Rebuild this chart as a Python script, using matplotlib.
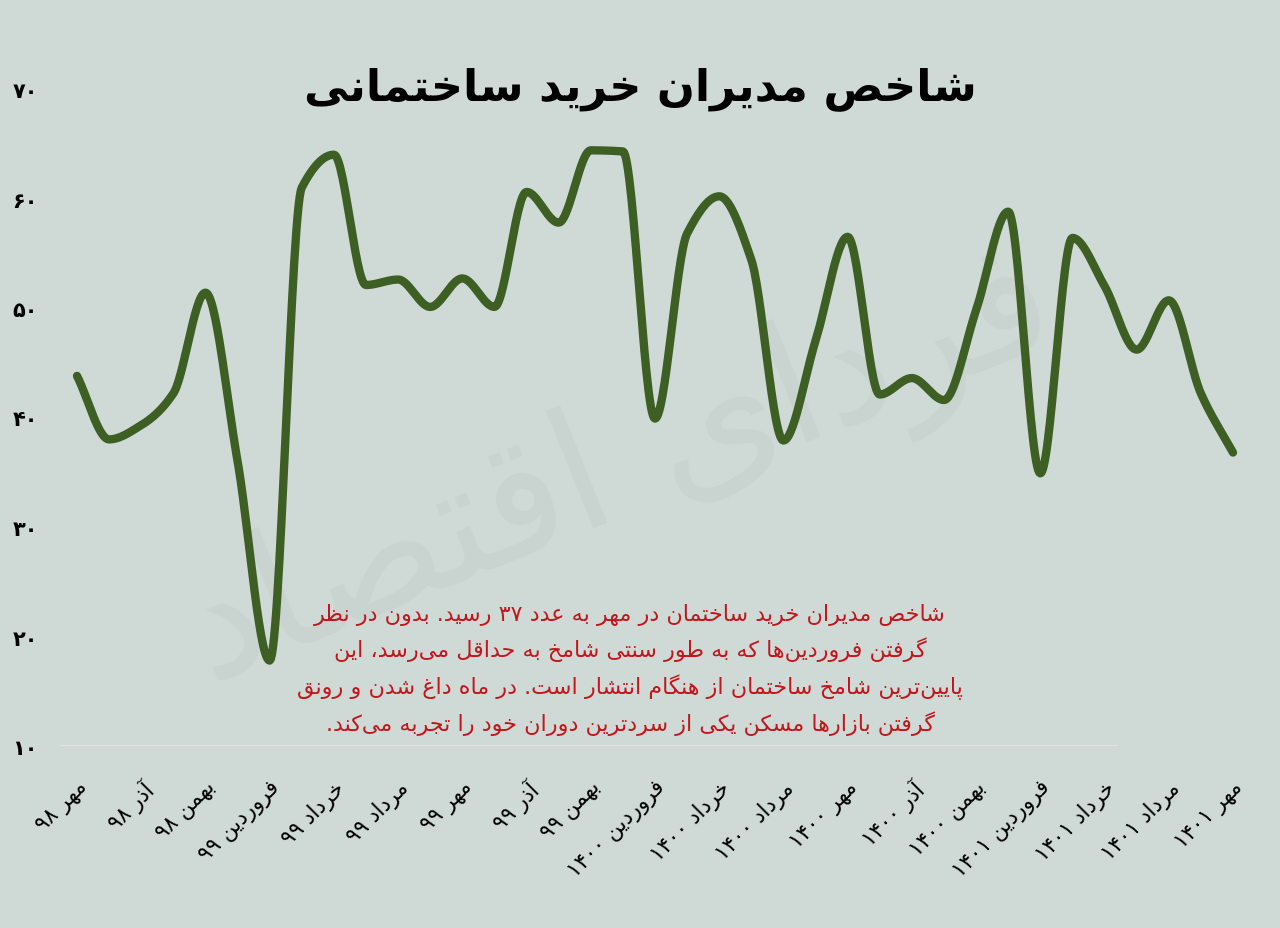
import numpy as np
import matplotlib.pyplot as plt

# داده‌ها: شاخص مدیران خرید ساختمانی، ماهانه از مهر ۹۸ تا مهر ۱۴۰۱
values = [43.8, 38.0, 39.3, 42.2, 51.4, 36.0, 17.8, 61.0, 64.0, 52.1,
          52.6, 50.1, 52.7, 50.1, 60.6, 57.8, 64.4, 64.3, 39.9, 56.8,
          60.2, 54.4, 37.9, 47.0, 56.5, 42.1, 43.6, 41.6, 49.8, 58.8,
          34.9, 56.4, 52.0, 46.2, 50.7, 42.2, 36.8]
tick_labels = ['مهر ۹۸', 'آذر ۹۸', 'بهمن ۹۸', 'فروردین ۹۹', 'خرداد ۹۹',
               'مرداد ۹۹', 'مهر ۹۹', 'آذر ۹۹', 'بهمن ۹۹', 'فروردین ۱۴۰۰',
               'خرداد ۱۴۰۰', 'مرداد ۱۴۰۰', 'مهر ۱۴۰۰', 'آذر ۱۴۰۰', 'بهمن ۱۴۰۰',
               'فروردین ۱۴۰۱', 'خرداد ۱۴۰۱', 'مرداد ۱۴۰۱', 'مهر ۱۴۰۱']
tick_step = 2
y_ticks = [10, 20, 30, 40, 50, 60, 70]
title = 'شاخص مدیران خرید ساختمانی'
note_lines = ['شاخص مدیران خرید ساختمان در مهر به عدد ۳۷ رسید. بدون در نظر',
              'گرفتن فروردین‌ها که به طور سنتی شامخ به حداقل می‌رسد، این',
              'پایین‌ترین شامخ ساختمان از هنگام انتشار است. در ماه داغ شدن و رونق',
              'گرفتن بازارها مسکن یکی از سردترین دوران خود را تجربه می‌کند.']
watermark = 'فردای اقتصاد'

BG = '#CFDAD7'
LINE = '#3D5F24'
RED = '#C3161C'

# شکل‌دهی حروف فارسی (ایزوله، پایانی، آغازی، میانی)
FORMS = {
    'ا': (0xFE8D, 0xFE8E, None, None), 'آ': (0xFE81, 0xFE82, None, None),
    'ب': (0xFE8F, 0xFE90, 0xFE91, 0xFE92), 'پ': (0xFB56, 0xFB57, 0xFB58, 0xFB59),
    'ت': (0xFE95, 0xFE96, 0xFE97, 0xFE98), 'ث': (0xFE99, 0xFE9A, 0xFE9B, 0xFE9C),
    'ج': (0xFE9D, 0xFE9E, 0xFE9F, 0xFEA0), 'چ': (0xFB7A, 0xFB7B, 0xFB7C, 0xFB7D),
    'ح': (0xFEA1, 0xFEA2, 0xFEA3, 0xFEA4), 'خ': (0xFEA5, 0xFEA6, 0xFEA7, 0xFEA8),
    'د': (0xFEA9, 0xFEAA, None, None), 'ذ': (0xFEAB, 0xFEAC, None, None),
    'ر': (0xFEAD, 0xFEAE, None, None), 'ز': (0xFEAF, 0xFEB0, None, None),
    'ژ': (0xFB8A, 0xFB8B, None, None),
    'س': (0xFEB1, 0xFEB2, 0xFEB3, 0xFEB4), 'ش': (0xFEB5, 0xFEB6, 0xFEB7, 0xFEB8),
    'ص': (0xFEB9, 0xFEBA, 0xFEBB, 0xFEBC), 'ض': (0xFEBD, 0xFEBE, 0xFEBF, 0xFEC0),
    'ط': (0xFEC1, 0xFEC2, 0xFEC3, 0xFEC4), 'ظ': (0xFEC5, 0xFEC6, 0xFEC7, 0xFEC8),
    'ع': (0xFEC9, 0xFECA, 0xFECB, 0xFECC), 'غ': (0xFECD, 0xFECE, 0xFECF, 0xFED0),
    'ف': (0xFED1, 0xFED2, 0xFED3, 0xFED4), 'ق': (0xFED5, 0xFED6, 0xFED7, 0xFED8),
    'ک': (0xFB8E, 0xFB8F, 0xFB90, 0xFB91), 'گ': (0xFB92, 0xFB93, 0xFB94, 0xFB95),
    'ل': (0xFEDD, 0xFEDE, 0xFEDF, 0xFEE0), 'م': (0xFEE1, 0xFEE2, 0xFEE3, 0xFEE4),
    'ن': (0xFEE5, 0xFEE6, 0xFEE7, 0xFEE8), 'و': (0xFEED, 0xFEEE, None, None),
    'ه': (0xFEE9, 0xFEEA, 0xFEEB, 0xFEEC), 'ی': (0xFBFC, 0xFBFD, 0xFBFE, 0xFBFF),
}
DIGITS = set('۰۱۲۳۴۵۶۷۸۹0123456789')


def fa(text):
    out = []
    for i, c in enumerate(text):
        if c == '\u200c':
            continue
        if c not in FORMS:
            out.append(c)
            continue
        prev = text[i - 1] if i > 0 else ''
        nxt = text[i + 1] if i + 1 < len(text) else ''
        join_prev = prev in FORMS and FORMS[prev][2] is not None
        join_next = nxt in FORMS and FORMS[c][2] is not None
        iso, fin, ini, med = FORMS[c]
        if join_prev and join_next:
            code = med
        elif join_prev:
            code = fin
        elif join_next:
            code = ini
        else:
            code = iso
        out.append(chr(code))
    # راست به چپ، اعداد چپ به راست می‌مانند
    vis = out[::-1]
    res, run = [], []
    for c in vis:
        if c in DIGITS:
            run.append(c)
        else:
            res.extend(run[::-1])
            run = []
            res.append(c)
    res.extend(run[::-1])
    return ''.join(res)


def smooth(x, y, n=30):
    # منحنی هموار (هرمیت یکنوا) از روی نقاط داده
    x = np.asarray(x, float)
    y = np.asarray(y, float)
    h = np.diff(x)
    d = np.diff(y) / h
    m = np.zeros_like(y)
    for k in range(1, len(y) - 1):
        if d[k - 1] * d[k] > 0:
            w1 = 2 * h[k] + h[k - 1]
            w2 = h[k] + 2 * h[k - 1]
            m[k] = (w1 + w2) / (w1 / d[k - 1] + w2 / d[k])
    m[0] = d[0]
    m[-1] = d[-1]
    xs, ys = [], []
    t = np.linspace(0, 1, n, endpoint=False)
    for k in range(len(y) - 1):
        h00 = 2 * t ** 3 - 3 * t ** 2 + 1
        h10 = t ** 3 - 2 * t ** 2 + t
        h01 = -2 * t ** 3 + 3 * t ** 2
        h11 = t ** 3 - t ** 2
        xs.append(x[k] + t * h[k])
        ys.append(h00 * y[k] + h10 * h[k] * m[k] + h01 * y[k + 1] + h11 * h[k] * m[k + 1])
    xs.append([x[-1]])
    ys.append([y[-1]])
    return np.concatenate(xs), np.concatenate(ys)


plt.rcParams['font.family'] = ['DejaVu Sans']

fig = plt.figure(figsize=(12.8, 9.29), dpi=100, facecolor=BG)
ax = fig.add_axes([60 / 1280, 182 / 929, 1190 / 1280, 657 / 929])
ax.set_facecolor('none')

x = np.arange(len(values))
sx, sy = smooth(x, values)
ax.plot(sx, sy, color=LINE, lw=6, solid_capstyle='round', solid_joinstyle='round',
        zorder=3, clip_on=False)

ax.axhline(10, xmin=0, xmax=0.888, color='#DCE3E1', lw=1.5, zorder=1)

ax.text(0.47, 0.42, fa(watermark), transform=ax.transAxes, fontsize=120,
        color='#C9D4D1', rotation=22, ha='center', va='center', zorder=0)

ax.set_xlim(-0.53, 36.53)
ax.set_ylim(10, 70)
for s in ax.spines.values():
    s.set_visible(False)

ax.set_yticks(y_ticks)
ax.set_yticklabels([fa(str(v).translate(str.maketrans('0123456789', '۰۱۲۳۴۵۶۷۸۹'))) for v in y_ticks],
                   fontsize=15, fontweight='bold')
ax.set_xticks(x[::tick_step])
ax.set_xticklabels([fa(t) for t in tick_labels], rotation=45, ha='right', va='top',
                   rotation_mode='anchor', fontsize=15.5)
ax.tick_params(axis='y', length=0, pad=16)
ax.tick_params(axis='x', length=0, pad=22)

fig.text(0.5, 1 - 89 / 929, fa(title), fontsize=32, fontweight='bold',
         ha='center', va='center', color='black')

fig.text(630 / 1280, 1 - 670 / 929, '\n'.join(fa(l) for l in note_lines),
         fontsize=16, color=RED, ha='center', va='center', multialignment='center',
         linespacing=1.6)

fig.savefig('out.png', dpi=100, facecolor=BG)
